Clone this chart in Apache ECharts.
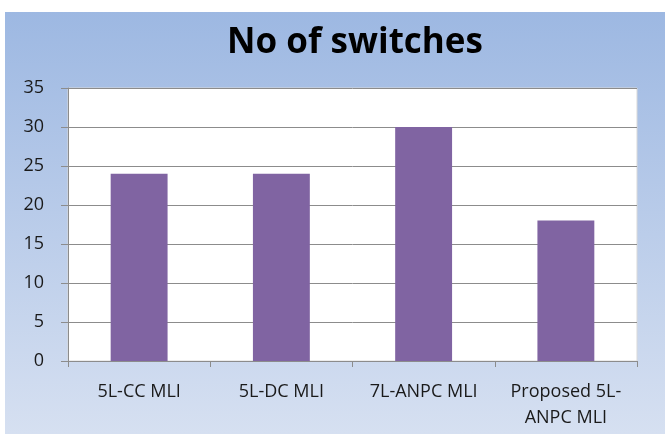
<!DOCTYPE html>
<html>
<head>
<meta charset="utf-8">
<script src="https://cdn.jsdelivr.net/npm/echarts@6/dist/echarts.min.js"></script>
<style>
  html, body { margin: 0; padding: 0; background: #fff; }
  #chart { width: 665px; height: 435px; }
</style>
</head>
<body>
<div id="chart"></div>
<script>
// chart data
const categories = ['5L-CC MLI', '5L-DC MLI', '7L-ANPC MLI', 'Proposed 5L-\nANPC MLI']
const switchCounts = [24, 24, 30, 18]
const yTicks = { min: 0, max: 35, interval: 5 }

const chart = echarts.init(document.getElementById('chart'))

chart.setOption({
  animation: false,
  textStyle: { fontFamily: 'Open Sans' },
  title: {
    text: 'No of switches',
    left: 350,
    textAlign: 'center',
    top: 21,
    textStyle: {
      fontFamily: 'Open Sans',
      fontSize: 35,
      fontWeight: 'bold',
      color: '#000'
    }
  },
  graphic: [{
    type: 'rect',
    left: 5,
    top: 12,
    z: -10,
    silent: true,
    shape: { width: 660, height: 422 },
    style: {
      fill: new echarts.graphic.LinearGradient(0, 0, 0, 1, [
        { offset: 0, color: '#9db8e2' },
        { offset: 1, color: '#d6e0f1' }
      ])
    }
  }],
  grid: {
    left: 68,
    right: 28,
    top: 88,
    bottom: 74,
    show: true,
    backgroundColor: '#fff',
    borderColor: '#d9d9d9',
    borderWidth: 1
  },
  xAxis: {
    type: 'category',
    data: categories,
    axisLine: { lineStyle: { color: '#8c8c8c' } },
    axisTick: { show: true, length: 6, lineStyle: { color: '#8c8c8c' } },
    axisLabel: {
      margin: 18,
      fontSize: 18,
      color: '#1a1a1a',
      lineHeight: 26,
      interval: 0
    }
  },
  yAxis: {
    type: 'value',
    min: yTicks.min,
    max: yTicks.max,
    interval: yTicks.interval,
    axisLine: { show: true, lineStyle: { color: '#8c8c8c' } },
    axisTick: { show: true, length: 7, lineStyle: { color: '#8c8c8c' } },
    splitLine: { lineStyle: { color: '#8c8c8c' } },
    axisLabel: {
      margin: 24,
      fontSize: 18,
      color: '#1a1a1a'
    }
  },
  series: [{
    type: 'bar',
    data: switchCounts,
    barWidth: '40%',
    itemStyle: { color: '#8064a2' }
  }]
})
</script>
</body>
</html>
